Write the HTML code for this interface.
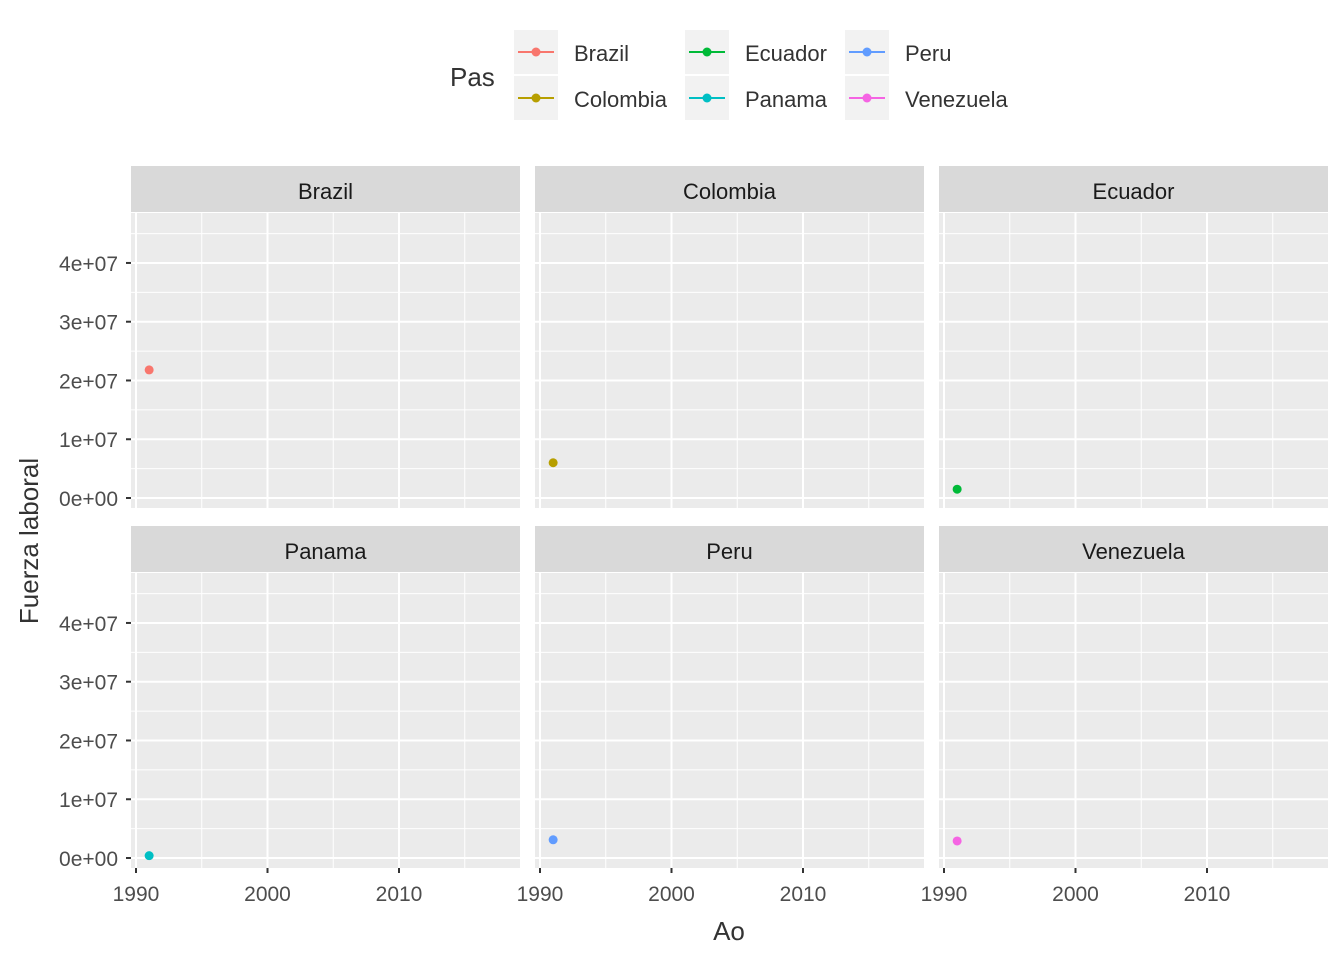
<!DOCTYPE html>
<html><head><meta charset="utf-8"><style>
body{margin:0;background:#fff;font-family:"Liberation Sans",sans-serif}
</style></head><body>
<svg id="c" width="1344" height="960" xmlns="http://www.w3.org/2000/svg"></svg>
<script>
const countries=["Brazil","Colombia","Ecuador","Panama","Peru","Venezuela"];
const colors=["#F8766D","#B79F00","#00BA38","#00BFC4","#619CFF","#F564E3"];
const years=[1991,1991,1991,1991,1991,1991];
const values=[2.18e7,0.6e7,0.15e7,0.04e7,0.31e7,0.29e7];
const xTicks=[1990,2000,2010];
const yTicks=[0,1e7,2e7,3e7,4e7];
const yLabels=["0e+00","1e+07","2e+07","3e+07","4e+07"];
const NS="http://www.w3.org/2000/svg";
const svg=document.getElementById('c');
function el(t,a,p){const e=document.createElementNS(NS,t);for(const k in a)e.setAttribute(k,a[k]);(p||svg).appendChild(e);return e;}
const colX=[131,535,939],pw=389,rowTop=[213,573],ph=295;
const xMin=1989.62,xMax=2019.2,yMin=-0.17e7,yMax=4.85e7;
function sx(c,v){return colX[c]+(v-xMin)/(xMax-xMin)*pw;}
function sy(r,v){return rowTop[r]+ph-(v-yMin)/(yMax-yMin)*ph;}
countries.forEach((name,i)=>{
  const c=i%3,r=Math.floor(i/3);
  const g=el('g',{});
  
  
  const s=el('rect',{x:colX[c],y:rowTop[r]-47,width:pw,height:46,fill:'#D9D9D9'},g);
  
  
  const st=el('text',{x:colX[c]+pw/2,y:rowTop[r]-14,'text-anchor':'middle','font-size':22,fill:'#1A1A1A'},g);st.textContent=name;
  
  
  el('rect',{x:colX[c],y:rowTop[r],width:pw,height:ph,fill:'#EBEBEB'},g);
  for(let k=0;k<yTicks.length;k++){
    const mv=yTicks[k]+0.5e7;
    el('line',{x1:colX[c],x2:colX[c]+pw,y1:sy(r,mv),y2:sy(r,mv),stroke:'#fff','stroke-width':1},g);
  }
  xTicks.forEach(t=>{const mv=t+5;el('line',{x1:sx(c,mv),x2:sx(c,mv),y1:rowTop[r],y2:rowTop[r]+ph,stroke:'#fff','stroke-width':1},g);});
  yTicks.forEach(t=>el('line',{x1:colX[c],x2:colX[c]+pw,y1:sy(r,t),y2:sy(r,t),stroke:'#fff','stroke-width':2},g));
  xTicks.forEach(t=>el('line',{x1:sx(c,t),x2:sx(c,t),y1:rowTop[r],y2:rowTop[r]+ph,stroke:'#fff','stroke-width':2},g));
  const p=el('circle',{cx:sx(c,years[i]),cy:sy(r,values[i]),r:4.5,fill:colors[i]},g);
  
  
  if(c===0){yTicks.forEach((t,k)=>{
    el('line',{x1:colX[0]-5,x2:colX[0],y1:sy(r,t),y2:sy(r,t),stroke:'#333','stroke-width':2},g);
    const tl=el('text',{x:colX[0]-13,y:sy(r,t)+8,'text-anchor':'end','font-size':21,fill:'#4D4D4D'},g);tl.textContent=yLabels[k];
    
    
  });}
  if(r===1){xTicks.forEach(t=>{
    el('line',{x1:sx(c,t),x2:sx(c,t),y1:rowTop[1]+ph,y2:rowTop[1]+ph+5,stroke:'#333','stroke-width':2},g);
    const tl=el('text',{x:sx(c,t),y:rowTop[1]+ph+33,'text-anchor':'middle','font-size':21,fill:'#4D4D4D'},g);tl.textContent=t;
    
    
  });}
});
const xt=el('text',{x:729,y:940,'text-anchor':'middle','font-size':26,fill:'#333'});xt.textContent='Ao';


const yt=el('text',{x:38,y:541,'text-anchor':'middle','font-size':26,fill:'#333',transform:'rotate(-90 38 541)'});yt.textContent='Fuerza laboral';


const lt=el('text',{x:450,y:86,'font-size':26,fill:'#333'});lt.textContent='Pas';


const legX=[514,685,845],legY=[30,76];
const order=[0,1,2,3,4,5];
order.forEach(i=>{
  const c=Math.floor(i/2),r=i%2;
  const g=el('g',{});
  
  
  el('rect',{x:legX[c],y:legY[r],width:44,height:44,fill:'#F2F2F2'},g);
  el('line',{x1:legX[c]+4,x2:legX[c]+40,y1:legY[r]+22,y2:legY[r]+22,stroke:colors[i],'stroke-width':2},g);
  el('circle',{cx:legX[c]+22,cy:legY[r]+22,r:4.5,fill:colors[i]},g);
  const t=el('text',{x:legX[c]+60,y:legY[r]+31,'font-size':22,fill:'#333'},g);t.textContent=countries[i];
});
</script>
</body></html>
